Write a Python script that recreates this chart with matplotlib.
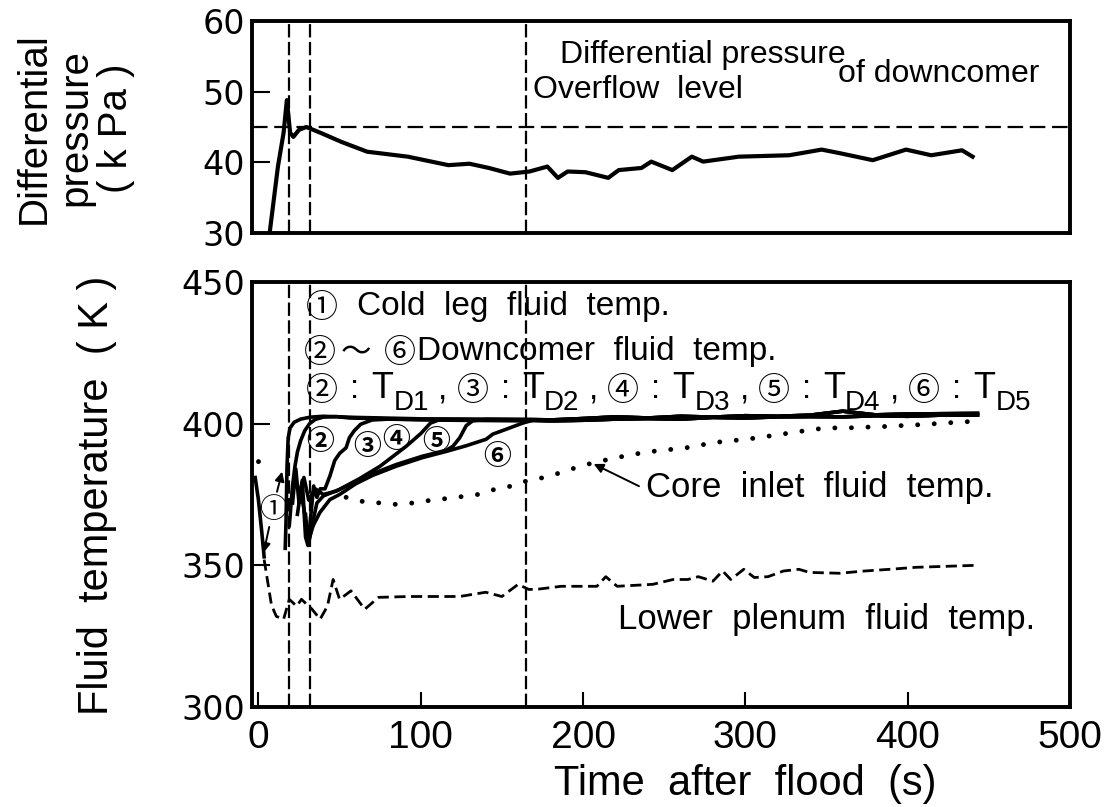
import numpy as np
import matplotlib
matplotlib.use("Agg")
import matplotlib.pyplot as plt

# differential pressure of downcomer (kPa)
t_dp = [7, 12, 15.5, 17.5, 19.5, 21.5, 25, 29.5, 39, 51, 67, 92, 117, 130, 142, 155,
        167, 178, 184.5, 190.5, 201.5, 215.5, 222, 236, 242, 255, 267, 274, 296, 327,
        347, 358, 378.5, 399, 414.5, 433.5, 440]
dp = [30.2, 39.4, 44.2, 48.8, 44.2, 43.6, 44.6, 45.0, 44.1, 42.9, 41.5, 40.8, 39.6, 39.8,
      39.2, 38.4, 38.7, 39.4, 37.8, 38.7, 38.6, 37.8, 38.9, 39.2, 40.1, 38.9, 40.8, 40.1,
      40.8, 41.0, 41.8, 41.3, 40.3, 41.8, 41.0, 41.7, 40.8]

# saturated tail shared by all downcomer curves
t_tail = [180, 200, 220, 240, 260, 280, 300, 320, 340, 360, 380, 400, 420, 443]
T_tail_a = [401.3, 401.8, 402.4, 402.0, 402.6, 402.3, 402.8, 402.6, 403.0, 404.4, 403.1, 403.4, 403.5, 403.6]
T_tail_b = [401.0, 401.2, 401.6, 401.8, 401.6, 402.2, 402.0, 402.4, 402.5, 402.4, 402.8, 402.6, 403.0, 403.0]

# (1) cold leg fluid temperature
t_cold = [-2, 0, 2, 3.5, np.nan, 16.5, 17, 17.6, 18.3, 19.5, 22, 26, 32, 40, 60, 100, 140, 170]
T_cold = [381, 373, 362, 353, np.nan, 356, 366, 385, 395, 398.5, 400.5, 401.6, 402.3, 402.6,
          402.2, 401.7, 401.6, 401.5]

# (2)-(6) downcomer fluid temperatures TD1..TD5
t_td1 = [19, 20, 21, 22.5, 24, 26, 28.5, 31.5, 35, 40, 48, 56, 100, 140, 170]
T_td1 = [364, 371, 378, 385, 390, 394, 397.5, 400, 401.5, 402.3, 402.5, 402.0, 401.4, 401.3, 401.2]

t_td2 = [21, 23, 25, 27, 29, 30.5, 32, 34, 36, 38, 41, 44, 47, 50, 54, 56, 59, 63, 70, 80,
         120, 160]
T_td2 = [372, 384, 372, 380, 360, 357, 366, 378, 374, 377, 377, 381.5, 387, 389.5, 391.5,
         395, 397.5, 399.8, 401.3, 401.6, 401.2, 401.0]

t_td3 = [24, 26, 28, 31, 33, 36, 40, 50, 62, 75, 91, 100, 106, 112, 140, 165]
T_td3 = [368, 376, 370, 358, 364, 372, 374.5, 376.8, 380.5, 385, 392, 396.5, 400.2, 401.5,
         401.3, 401.2]

t_td4 = [25, 28, 31, 35, 40, 48, 60, 70.6, 85, 101, 115.7, 119.8, 124, 128, 132, 140, 165]
T_td4 = [375, 381, 373, 377, 375, 376.2, 379.7, 382.4, 385.6, 388.5, 390.6, 392, 395, 399.3,
         401, 401.5, 401.4]

t_td5 = [29, 30.5, 33.7, 37.8, 44, 50, 60, 70.6, 85, 101, 115.7, 128, 140.3, 144.4, 152.5,
         162.8, 169]
T_td5 = [368, 358, 364, 368.6, 373.2, 375, 378.8, 381.8, 385, 388, 390.2, 392.2, 394.5,
         396.3, 398, 400.2, 401.2]

# core inlet fluid temperature
t_core = [0, 8, np.nan, 54, 63.5, 75, 85, 95, 106.5, 116.5, 126, 135, 145.5, 154.5, 164, 171,
          185, 200, 218, 229.5, 239.5, 249, 259, 269.5, 278.7, 288, 298, 308, 318.7, 328.6,
          340, 350, 363.5, 376, 386, 396, 406.5, 417.6, 428, 437]
T_core = [386.6, 389.8, np.nan, 374, 372.6, 372, 371.5, 372, 373, 373.6, 374.3, 375, 376.8,
          377.8, 379.6, 380.3, 382.5, 385.3, 387.7, 389, 390, 390.6, 391.2, 391.9, 393.3,
          393.7, 394.4, 395, 396, 396.8, 397.8, 398.5, 398.5, 398.8, 399, 399.3, 399.6, 400,
          400.4, 400.7]

# lower plenum fluid temperature
t_lower = [3.5, 8, 11, 15.5, 19, 23.5, 26.5, 33, 38, 42.5, 46, 50, 57, 65.5, 74, 93, 124, 140,
           150, 160, 166.5, 171, 186.5, 208.5, 214, 221, 243, 255.5, 264.5, 271, 280, 286,
           291, 299, 305.5, 314, 323.5, 333, 339.5, 358, 373.5, 389, 405, 421, 442]
T_lower = [352, 336, 332, 331, 338, 335.6, 338, 334.5, 331, 335.6, 345, 338, 341, 334.5, 338.7,
           339, 339, 340.5, 339, 343.3, 341.5, 341.5, 342.6, 342.6, 346, 342.6, 343.3, 345, 345,
           346, 344.4, 348, 345, 348.6, 345.7, 346, 348, 348.6, 347.5, 347.2, 348, 348.6,
           349.3, 349.6, 350]

event_times = [19, 31.5, 165]
overflow_level = 45

narrow = ['Liberation Sans Narrow', 'Liberation Sans', 'Noto Sans CJK JP']
circ = ['Noto Sans CJK JP', 'DejaVu Sans']

fig = plt.figure(figsize=(11.09, 8.07), dpi=100)
ax1 = fig.add_axes([0.2272, 0.7113, 0.7376, 0.2627])
ax2 = fig.add_axes([0.2272, 0.1239, 0.7376, 0.5267])

for ax in (ax1, ax2):
    for s in ax.spines.values():
        s.set_linewidth(2.8)
    ax.set_xlim(-4, 500)
    for t in event_times:
        ax.axvline(t, color='k', lw=1.6, ls=(0, (6, 2)), zorder=1)

# --- top: differential pressure
ax1.set_ylim(30, 60)
ax1.set_yticks([30, 40, 50, 60])
ax1.set_xticks([])
ax1.tick_params(axis='y', direction='in', length=13, width=1.5, pad=5, labelsize=24)
ax1.axhline(overflow_level, color='k', lw=1.6, ls=(0, (7, 3)), zorder=1)
ax1.plot(t_dp, dp, color='k', lw=3, solid_joinstyle='round', zorder=3)

ax1.text(0.3765, 0.80, 'Differential pressure', transform=ax1.transAxes,
         family=narrow, fontsize=23, va='baseline')
ax1.text(0.716, 0.712, 'of downcomer', transform=ax1.transAxes,
         family=narrow, fontsize=23, va='baseline')
ax1.text(0.3435, 0.637, 'Overflow  level', transform=ax1.transAxes,
         family=narrow, fontsize=23, va='baseline')

# --- bottom: fluid temperatures
ax2.set_ylim(300, 450)
ax2.set_yticks([300, 350, 400, 450])
ax2.set_xticks([0, 100, 200, 300, 400, 500])
ax2.tick_params(axis='y', direction='in', length=13, width=1.5, pad=5, labelsize=24)
ax2.tick_params(axis='x', direction='in', length=11, width=1.5, pad=9)
for lab in ax2.get_xticklabels():
    lab.set_family(narrow)
    lab.set_fontsize(28)

ax2.plot(t_lower, T_lower, color='k', lw=2, ls=(0, (4, 2)), zorder=2)
ax2.plot(t_core, T_core, color='k', lw=3.5, ls=(0, (0.01, 3.4)),
         dash_capstyle='round', zorder=2)

ax2.plot(t_cold + t_tail, T_cold + T_tail_a, color='k', lw=2.6, zorder=3)
ax2.plot(t_td1 + t_tail, T_td1 + T_tail_b, color='k', lw=2.6, zorder=3)
ax2.plot(t_td2 + t_tail, T_td2 + T_tail_a, color='k', lw=2.6, zorder=3)
ax2.plot(t_td3 + t_tail, T_td3 + T_tail_b, color='k', lw=2.6, zorder=3)
ax2.plot(t_td4 + t_tail, T_td4 + T_tail_a, color='k', lw=2.6, zorder=3)
ax2.plot(t_td5 + t_tail, T_td5 + T_tail_b, color='k', lw=2.6, zorder=3)

# curve numbers
for label, (tx, ty) in zip(['②', '③', '④', '⑤', '⑥'],
                           [(37.8, 393.5), (66.7, 391.8), (85.1, 394.2),
                            (109.7, 393.5), (147.2, 388.2)]):
    ax2.text(tx, ty, label, family=circ, fontsize=20, ha='center', va='center',
             fontweight='bold', zorder=4)
ax2.text(8.9, 369.5, '①', family=circ, fontsize=20, ha='center', va='center', zorder=4)
ax2.annotate('', xy=(15, 384), xytext=(11, 375),
             arrowprops=dict(arrowstyle='-|>', color='k', lw=1.4, mutation_scale=14))
ax2.annotate('', xy=(2.8, 353.5), xytext=(7, 364.5),
             arrowprops=dict(arrowstyle='-|>', color='k', lw=1.4, mutation_scale=14))

# legend block
ax2.text(0.066, 0.918, '①', transform=ax2.transAxes, family=circ, fontsize=23, va='baseline')
ax2.text(0.128, 0.922, 'Cold  leg  fluid  temp.', transform=ax2.transAxes,
         family=narrow, fontsize=24, va='baseline')
ax2.text(0.063, 0.812, '②', transform=ax2.transAxes, family=circ, fontsize=23, va='baseline')
ax2.text(0.108, 0.816, '～', transform=ax2.transAxes, family=circ, fontsize=22, va='baseline')
ax2.text(0.161, 0.812, '⑥', transform=ax2.transAxes, family=circ, fontsize=23, va='baseline')
ax2.text(0.202, 0.816, 'Downcomer  fluid  temp.', transform=ax2.transAxes,
         family=narrow, fontsize=24, va='baseline')

circled = ['②', '③', '④', '⑤', '⑥']
subs = ['D1', 'D2', 'D3', 'D4', 'D5']
for i, (c, s) in enumerate(zip(circled, subs)):
    x0 = 0.066 + i * 0.184
    ax2.text(x0, 0.723, c, transform=ax2.transAxes, family=circ, fontsize=23, va='baseline')
    ax2.text(x0 + 0.054, 0.727, ':', transform=ax2.transAxes, family=narrow, fontsize=24,
             va='baseline')
    ax2.text(x0 + 0.080, 0.727, 'T', transform=ax2.transAxes, family=narrow, fontsize=26,
             va='baseline')
    ax2.text(x0 + 0.107, 0.699, s, transform=ax2.transAxes, family=narrow, fontsize=20,
             va='baseline')
    if i < 4:
        ax2.text(x0 + 0.162, 0.727, ',', transform=ax2.transAxes, family=narrow,
                 fontsize=24, va='baseline')

ax2.text(238.8, 377.3, 'Core  inlet  fluid  temp.', family=narrow, fontsize=25, va='center')
ax2.annotate('', xy=(205, 386.2), xytext=(236, 377.5),
             arrowprops=dict(arrowstyle='-|>', color='k', lw=1.4, mutation_scale=14))
ax2.text(0.447, 0.205, 'Lower  plenum  fluid  temp.', transform=ax2.transAxes,
         family=narrow, fontsize=25, va='center')

ax2.set_xlabel('Time  after  flood  (s)', family=narrow, fontsize=30, x=0.603, labelpad=6)

fig.text(75 / 1109, 1 - 128 / 807, 'Differential\npressure\n( k Pa )', rotation=90,
         ha='center', va='center', family=narrow, fontsize=29, linespacing=1.1)
fig.text(97 / 1109, 1 - 495 / 807, 'Fluid  temperature  ( K )', rotation=90,
         ha='center', va='center', family=narrow, fontsize=30)

fig.savefig('out.png', dpi=100)
